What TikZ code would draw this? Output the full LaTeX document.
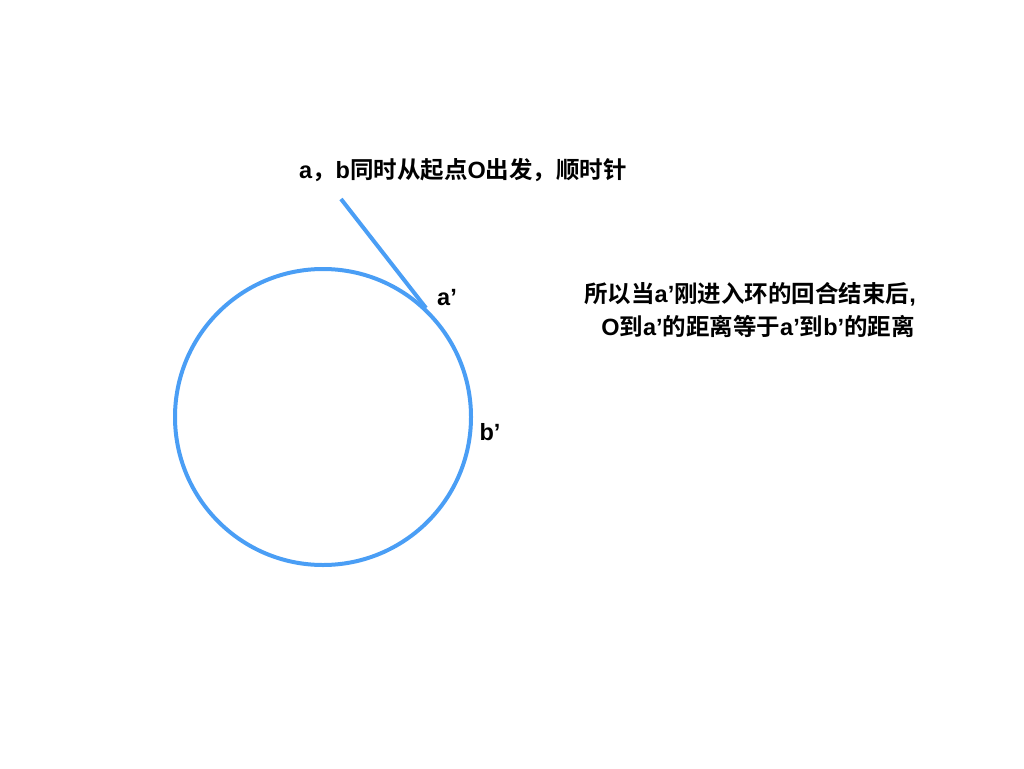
\documentclass[tikz,border=0pt]{standalone}
\usepackage{fontspec}
\setmainfont{Noto Sans CJK SC}[BoldFont={* Bold}]
\newfontfamily\lat{Liberation Sans}
\newcommand{\Lt}[1]{{\lat\bfseries #1}}
\definecolor{ringblue}{RGB}{74,158,245}
\begin{document}
\begin{tikzpicture}[x=1pt,y=-1pt,
  lbl/.style={font=\fontsize{23.5}{27}\selectfont\bfseries, inner sep=0pt, text=black},
  ring/.style={draw=ringblue, line width=4pt}]
\useasboundingbox (0,0) rectangle (1024,768);
\node[ring, circle, minimum size=296pt, inner sep=0pt] (c) at (323,417) {};
\coordinate (s) at (341,199);
\coordinate (e) at (426,308);
\draw[draw=ringblue, line width=4pt] (s) -- (e);
\node[lbl] (t) at (463,170) {\Lt{a}，\Lt{b}同时从起点\Lt{O}出发，顺时针};
\node[lbl] (ap) at (447,298) {\Lt{a’}};
\node[lbl] (bp) at (490,432) {\Lt{b’}};
\node[lbl] (r1) at (750,294) {所以当\Lt{a’}刚进入环的回合结束后\Lt{,}};
\node[lbl] (r2) at (758,326) {\Lt{O}到\Lt{a’}的距离等于\Lt{a’}到\Lt{b’}的距离};
\end{tikzpicture}
\end{document}
